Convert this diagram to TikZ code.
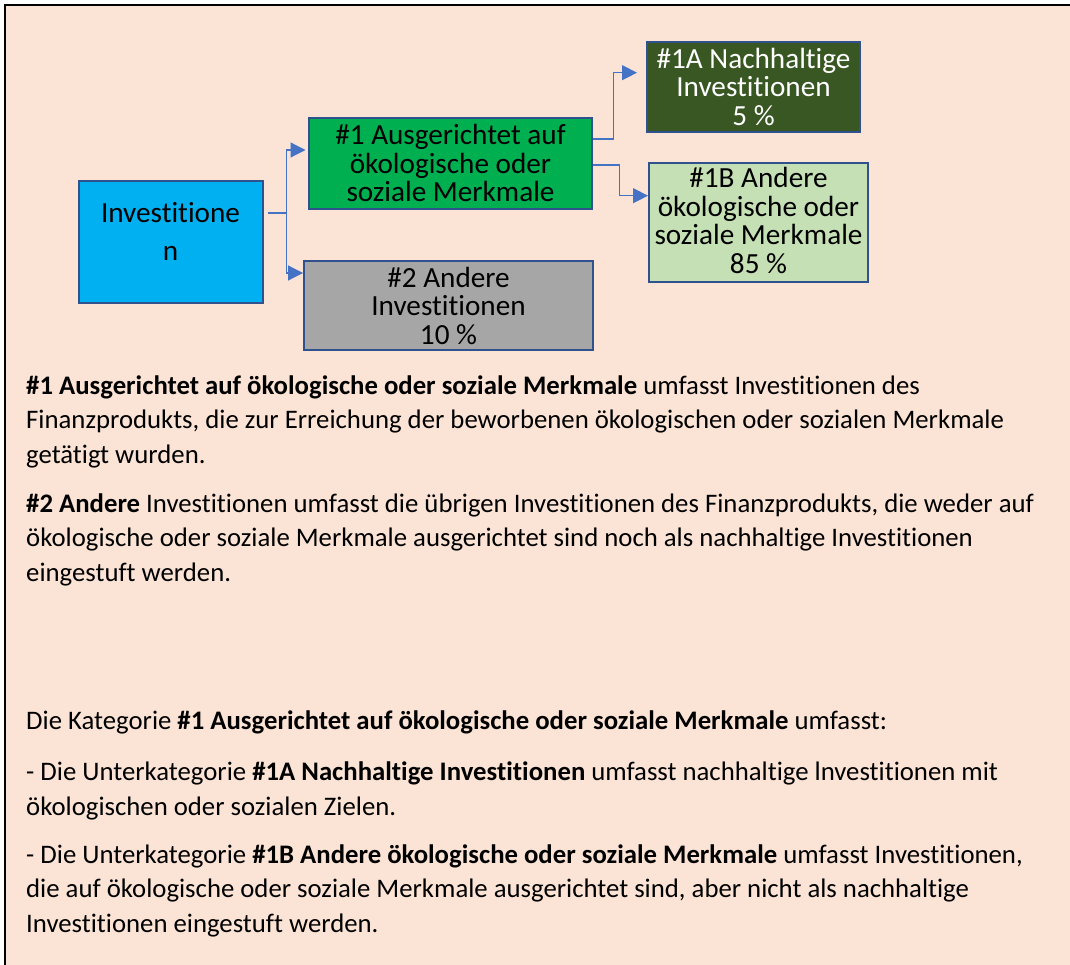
\documentclass[tikz,border=0pt]{standalone}
\usepackage{fontspec}
\setmainfont{Carlito}[Ligatures=NoCommon]
\usetikzlibrary{arrows.meta}
\definecolor{peach}{HTML}{FBE4D5}
\definecolor{cyanbox}{HTML}{00B0F0}
\definecolor{greenbox}{HTML}{00B050}
\definecolor{graybox}{HTML}{A6A6A6}
\definecolor{darkgreenbox}{HTML}{385723}
\definecolor{lightgreenbox}{HTML}{C5E0B4}
\definecolor{boxborder}{HTML}{2F528F}
\definecolor{connblue}{HTML}{4472C4}
\tikzset{
  box/.style={draw=boxborder, line width=2pt, rectangle, inner sep=0pt},
  boxtext/.style={align=center, inner sep=0pt, font=\fontsize{29.2}{28.5}\selectfont},
  conn/.style={draw=connblue, line width=1.2pt, -{Triangle[length=15pt,width=15pt]}},
  body/.style={anchor=base west, align=left, inner sep=0pt, font=\fontsize{26.75}{34.3}\selectfont}
}
\begin{document}
\begin{tikzpicture}[x=1pt,y=-1pt]
\useasboundingbox (0,0) rectangle (1070,965);
\fill[peach] (5,5) rectangle (1080,975);
\draw[black, line width=1.5pt] (1080,5) -- (5,5) -- (5,975);

% boxes
\node[box, fill=cyanbox, minimum width=184pt, minimum height=122pt] (inv) at (170.5,242) {};
\node[boxtext, font=\fontsize{29.2}{38}\selectfont] (invt) at (170.5,231) {Investitione\\n};
\node[box, fill=greenbox, minimum width=283pt, minimum height=91pt] (c1) at (450.5,163.5) {};
\node[boxtext] (c1t) at (450.5,163) {\#1 Ausgerichtet auf\\ökologische oder\\soziale Merkmale};
\node[box, fill=graybox, minimum width=289pt, minimum height=89pt] (c2) at (448.5,305.5) {};
\node[boxtext] (c2t) at (448.5,305.5) {\#2 Andere\\Investitionen\\10 \%};
\node[box, fill=darkgreenbox, minimum width=213pt, minimum height=90pt] (a1) at (753.5,87) {};
\node[boxtext, text=white] (a1t) at (753.5,86.5) {\#1A Nachhaltige\\Investitionen\\5 \%};
\node[box, fill=lightgreenbox, minimum width=219pt, minimum height=119pt] (b1) at (758.5,222.5) {};
\node[boxtext] (b1t) at (758.5,220.5) {\#1B Andere\\ökologische oder\\soziale Merkmale\\85 \%};

% connectors
\coordinate (j1) at (286.5,213);
\draw[conn] ([xshift=4.5pt,yshift=29pt]inv.east) -- (j1) |- ([xshift=-2.5pt,yshift=13.5pt]c1.west);
\draw[conn] ([xshift=4.5pt,yshift=29pt]inv.east) -- (j1) |- ([yshift=32.5pt]c2.west);
\coordinate (j2) at (613.7,139);
\draw[conn] ([yshift=24.5pt]c1.east) -- (j2) |- ([xshift=-9pt,yshift=14.3pt]a1.west);
\coordinate (j3) at (619.5,165);
\draw[conn] ([yshift=-1.5pt]c1.east) -- (j3) |- ([yshift=26.8pt]b1.west);

% body text (anchor = baseline of last line)
\node[body] (p1) at (26,463) {\textbf{\#1 Ausgerichtet auf ökologische oder soziale Merkmale} umfasst Investitionen des\\Finanzprodukts, die zur Erreichung der beworbenen ökologischen oder sozialen Merkmale\\getätigt wurden.};
\node[body] (p2) at (26,581) {\textbf{\#2 Andere} Investitionen umfasst die übrigen Investitionen des Finanzprodukts, die weder auf\\ökologische oder soziale Merkmale ausgerichtet sind noch als nachhaltige Investitionen\\eingestuft werden.};
\node[body] (p3) at (26,729) {Die Kategorie \textbf{\#1 Ausgerichtet auf ökologische oder soziale Merkmale} umfasst:};
\node[body] (p4) at (26,815) {- Die Unterkategorie \textbf{\#1A Nachhaltige Investitionen} umfasst nachhaltige lnvestitionen mit\\ökologischen oder sozialen Zielen.};
\node[body] (p5) at (26,932) {- Die Unterkategorie \textbf{\#1B Andere ökologische oder soziale Merkmale} umfasst Investitionen,\\die auf ökologische oder soziale Merkmale ausgerichtet sind, aber nicht als nachhaltige\\Investitionen eingestuft werden.};
\end{tikzpicture}
\end{document}
